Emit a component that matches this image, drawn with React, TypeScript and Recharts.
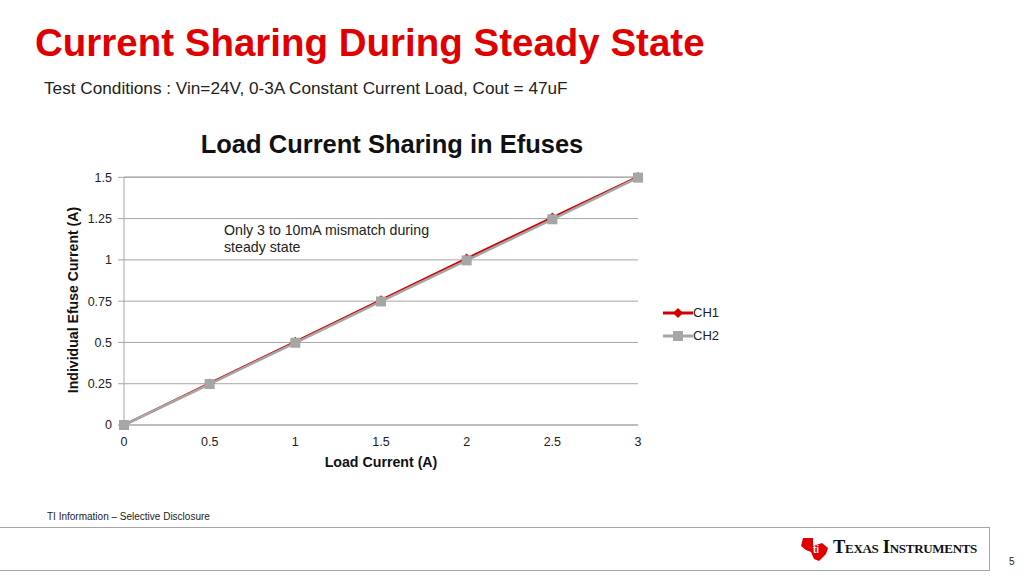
// Current sharing between two efuses, redrawn from a TI slide
import { LineChart, Line, XAxis, YAxis, CartesianGrid } from 'recharts'

const loadCurrent = [0, 0.5, 1, 1.5, 2, 2.5, 3]
const ch1 = [0, 0.252, 0.504, 0.756, 1.008, 1.256, 1.502]
const ch2 = [0, 0.248, 0.498, 0.748, 0.997, 1.246, 1.498]
const xTicks = [0, 0.5, 1, 1.5, 2, 2.5, 3]
const yTicks = [0, 0.25, 0.5, 0.75, 1, 1.25, 1.5]

const RED = '#D00000'
const GRAY = '#A6A6A6'
const FONT = "Arial, 'Liberation Sans', sans-serif"

const data = loadCurrent.map((x, i) => ({ x, ch1: ch1[i], ch2: ch2[i] }))

const Diamond = (props: any) => {
  const { cx, cy } = props
  if (cx == null || cy == null) return null
  return <path d={`M${cx},${cy - 5}L${cx + 5},${cy}L${cx},${cy + 5}L${cx - 5},${cy}Z`} fill={RED} />
}

const Square = (props: any) => {
  const { cx, cy } = props
  if (cx == null || cy == null) return null
  return <rect x={cx - 5} y={cy - 5} width={10} height={10} fill={GRAY} />
}

const LegendBox = () => (
  <div style={{ fontFamily: FONT, fontSize: 13, color: '#222' }}>
    {[
      { name: 'CH1', color: RED, marker: 'diamond' },
      { name: 'CH2', color: GRAY, marker: 'square' },
    ].map((s) => (
      <div key={s.name} style={{ display: 'flex', alignItems: 'center', height: 23 }}>
        <svg width={30} height={12}>
          <line x1={0} y1={6} x2={30} y2={6} stroke={s.color} strokeWidth={3} />
          {s.marker === 'diamond' ? (
            <path d="M15,1L20,6L15,11L10,6Z" fill={s.color} />
          ) : (
            <rect x={10} y={1} width={10} height={10} fill={s.color} />
          )}
        </svg>
        <span>{s.name}</span>
      </div>
    ))}
  </div>
)

export default function App() {
  return (
    <div
      style={{
        position: 'absolute',
        left: 0,
        top: 0,
        width: 1024,
        height: 576,
        background: '#fff',
        fontFamily: FONT,
        overflow: 'hidden',
      }}
    >
      <div style={{ position: 'absolute', left: 35, top: 21, fontSize: 38.5, fontWeight: 'bold', color: '#E00000', whiteSpace: 'nowrap' }}>
        Current Sharing During Steady State
      </div>
      <div style={{ position: 'absolute', left: 44, top: 78, fontSize: 17.2, color: '#222', whiteSpace: 'nowrap' }}>
        Test Conditions : Vin=24V, 0-3A Constant Current Load, Cout = 47uF
      </div>
      <div style={{ position: 'absolute', left: 0, width: 784, top: 130, textAlign: 'center', fontSize: 25.5, fontWeight: 'bold', color: '#111' }}>
        Load Current Sharing in Efuses
      </div>

      <div style={{ position: 'absolute', left: 0, top: 0 }}>
        <LineChart
          width={1024}
          height={576}
          data={data}
          margin={{ top: 177, right: 386, left: 84, bottom: 121 }}
        >
          <CartesianGrid vertical={false} stroke={GRAY} strokeWidth={1} />
          <XAxis
            dataKey="x"
            type="number"
            domain={[0, 3]}
            ticks={xTicks}
            height={30}
            tickLine={false}
            axisLine={{ stroke: GRAY }}
            tick={{ fontSize: 12.5, fill: '#222', fontFamily: FONT }}
            tickMargin={6}
          />
          <YAxis
            type="number"
            domain={[0, 1.5]}
            ticks={yTicks}
            width={40}
            axisLine={{ stroke: GRAY }}
            tickLine={{ stroke: GRAY }}
            tickSize={6}
            tickMargin={6}
            tick={{ fontSize: 12.5, fill: '#222', fontFamily: FONT }}
          />
          <Line
            dataKey="ch1"
            name="CH1"
            stroke={RED}
            strokeWidth={2.5}
            dot={<Diamond />}
            activeDot={false}
            isAnimationActive={false}
          />
          <Line
            dataKey="ch2"
            name="CH2"
            stroke={GRAY}
            strokeWidth={2.5}
            dot={<Square />}
            activeDot={false}
            isAnimationActive={false}
          />
        </LineChart>
      </div>

      <div style={{ position: 'absolute', left: 663, top: 301 }}>
        <LegendBox />
      </div>
      <div style={{ position: 'absolute', left: 224, top: 222, fontSize: 14.2, color: '#222', lineHeight: '17px' }}>
        Only 3 to 10mA mismatch during
        <br />
        steady state
      </div>
      <div
        style={{
          position: 'absolute',
          left: 73,
          top: 300,
          transform: 'translate(-50%, -50%) rotate(-90deg)',
          fontSize: 14.1,
          fontWeight: 'bold',
          color: '#111',
          whiteSpace: 'nowrap',
        }}
      >
        Individual Efuse Current (A)
      </div>
      <div style={{ position: 'absolute', left: 381, top: 454, transform: 'translateX(-50%)', fontSize: 14.2, fontWeight: 'bold', color: '#111', whiteSpace: 'nowrap' }}>
        Load Current (A)
      </div>

      <div style={{ position: 'absolute', left: 47, top: 511, fontSize: 10, color: '#222', whiteSpace: 'nowrap' }}>
        TI Information – Selective Disclosure
      </div>
      <div style={{ position: 'absolute', left: -1, top: 527, width: 989, height: 42, border: `1px solid ${GRAY}` }} />
      <svg style={{ position: 'absolute', left: 800, top: 536 }} width={30} height={26}>
        <path d="M3,2 L13,2 L13,10 L22,7 L28,12 L26,18 L19,25 L14,23 L11,16 L6,14 L1,10 Z" fill="#E00000" />
        <text x={13} y={17} fontSize={10} fontWeight="bold" fill="#fff" fontFamily={FONT}>ti</text>
      </svg>
      <div
        style={{
          position: 'absolute',
          left: 833,
          top: 537,
          fontFamily: "'Liberation Serif', 'DejaVu Serif', serif",
          fontVariant: 'small-caps',
          fontWeight: 'bold',
          fontSize: 18.5,
          color: '#111',
          whiteSpace: 'nowrap',
          letterSpacing: -0.3,
        }}
      >
        Texas Instruments
      </div>
      <div style={{ position: 'absolute', left: 1009, top: 556, fontSize: 10, color: '#222' }}>5</div>
    </div>
  )
}
